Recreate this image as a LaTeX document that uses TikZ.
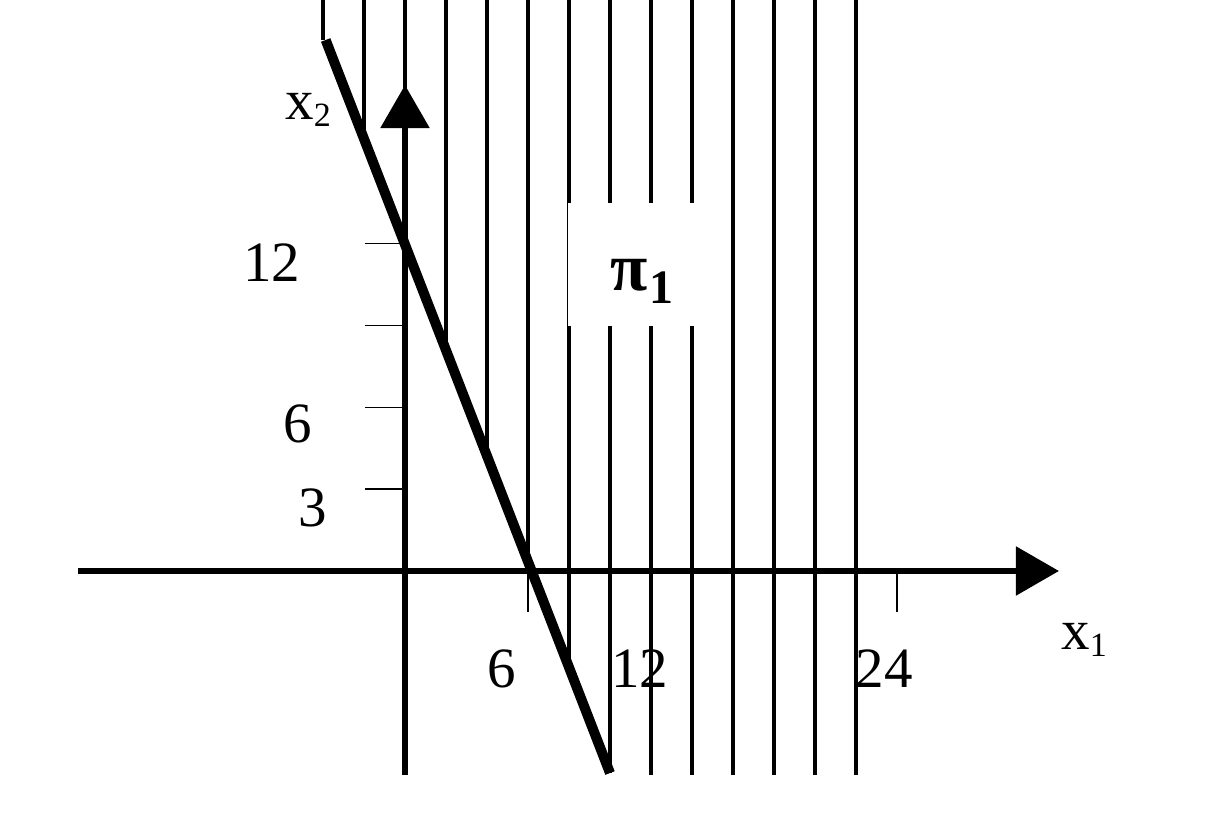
\documentclass[tikz,border=0pt]{standalone}
\usepackage{fontspec}
\setmainfont{Liberation Serif}
\usetikzlibrary{arrows.meta}
\newcommand{\lowidx}[1]{\raisebox{-3.5pt}{\fontsize{17}{17}\selectfont #1}}

\begin{document}
\begin{tikzpicture}[x=10.25pt, y=13.65pt,
  hatch/.style={line width=2.1pt},
  axis/.style={line width=2.8pt, -{Triangle[length=21.5pt, width=24pt]}},
  tick/.style={line width=0.65pt},
  num/.style={inner sep=0pt, font=\fontsize{28.5}{30}\selectfont}]
  \useasboundingbox (-19.756,-8.938) rectangle (40.049,20.916);
  % hatching right of the line
  \foreach \k in {-4,-2,...,22} {
    \pgfmathsetmacro{\yend}{max(min(11.96-1.936*\k,19.45),-7.47)}
    \draw[hatch] (\k,20.916) -- (\k,\yend);
  }
  \node[fill=white, inner sep=0pt, minimum width=71.75pt, minimum height=61.5pt] (pibox) at (11.43,11.227) {};

  % axes
  \coordinate (xs) at (-15.95,0);
  \coordinate (xe) at (31.9,0);
  \coordinate (ys) at (0,-7.47);
  \coordinate (ye) at (0,17.8);
  \draw[axis] (xs) -- (xe);
  \draw[axis] (ys) -- (ye);
  \foreach \t in {3,6,9,12} \draw[tick] (-1.95,\t) -- (0,\t);
  \foreach \t in {6,24} \draw[tick] (\t,0) -- (\t,-1.5);

  % bounding line
  \coordinate (ltop) at (-3.87,19.45);
  \coordinate (lbot) at (10,-7.4);
  \draw[line width=5pt] (ltop) -- (lbot);

  \node[num] (ytwelve) at (-6.49,11.28) {12};
  \node[num] (ysix) at (-5.22,5.38) {6};
  \node[num] (ythree) at (-4.51,2.31) {3};
  \node[num] (xsix) at (4.73,-3.59) {6};
  \node[num] (xtwelve) at (11.46,-3.59) {12};
  \node[num] (xtwentyfour) at (23.37,-3.59) {24};
  \node[num, anchor=base west] (xtwo) at (-5.85,16.52) {x\lowidx{2}};
  \node[num, anchor=base west] (xone) at (32.0,-2.89) {x\lowidx{1}};
  \node[inner sep=0pt, anchor=base west, font=\bfseries\fontsize{34}{34}\selectfont] (pione) at (10.0,10.29)
    {π\hspace{1pt}\raisebox{-6.5pt}{\fontsize{24}{24}\selectfont 1}};
\end{tikzpicture}
\end{document}
